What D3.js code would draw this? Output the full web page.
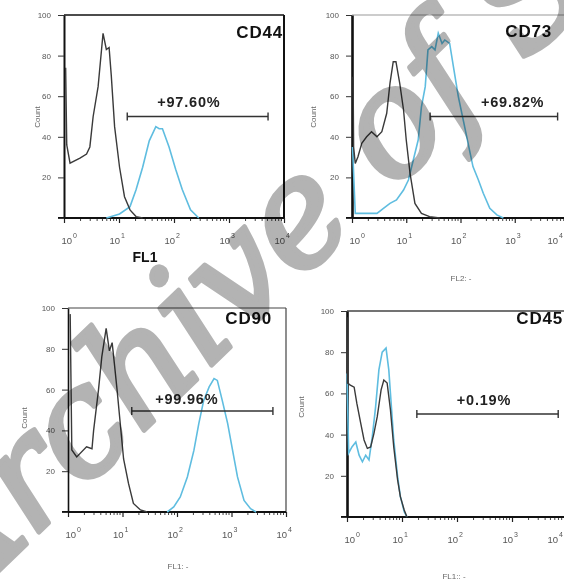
<!DOCTYPE html>
<html>
<head>
<meta charset="utf-8">
<script src="https://cdn.jsdelivr.net/npm/d3@7"></script>
<style>
  body { margin: 0; background: #fff; }
  svg { display: block; font-family: Arial, "Liberation Sans", sans-serif; }
  .watermark { font-family: "DejaVu Serif", serif; font-style: italic; }
</style>
</head>
<body>
<div id="graphics"></div>
<script>
// tick values
const decades = [0, 1, 2, 3, 4];
const countTicks = [0, 20, 40, 60, 80, 100];

// panel texts
const markers = ["CD44", "CD73", "CD90", "CD45"];
const positivePct = ["+97.60%", "+69.82%", "+99.96%", "+0.19%"];
const channelLabels = ["FL1", "FL2: -", "FL1: -", "FL1:: -"];

// histograms: x in log10 fluorescence, y = count
const cd44CtrlLog = [0.03, 0.05, 0.11, 0.29, 0.41, 0.47, 0.53, 0.62, 0.71, 0.77, 0.82, 0.86, 0.92, 1.01, 1.10, 1.20, 1.31, 1.43];
const cd44CtrlCount = [74, 36, 27, 29.5, 31.5, 35, 50, 64.7, 91, 83, 84, 70, 45, 25, 10.5, 4, 0.7, 0];
const cd44StainLog = [0.77, 1.01, 1.20, 1.31, 1.43, 1.55, 1.67, 1.73, 1.79, 1.91, 2.03, 2.15, 2.30, 2.45];
const cd44StainCount = [0, 2, 5.6, 13.9, 25, 38, 45, 44, 44, 35, 24, 14, 4, 0];

const cd73CtrlLog = [0.02, 0.03, 0.06, 0.11, 0.18, 0.27, 0.36, 0.46, 0.55, 0.64, 0.70, 0.76, 0.81, 0.88, 0.95, 1.00, 1.07, 1.16, 1.28, 1.43, 1.62];
const cd73CtrlCount = [69.6, 35, 26.9, 30.2, 36.8, 40, 42.5, 40, 42.5, 51.6, 66.3, 77, 77, 66.3, 53.2, 38.4, 22, 7.2, 2.3, 0.7, 0];
const cd73StainLog = [0.01, 0.06, 0.46, 0.58, 0.70, 0.82, 0.95, 1.04, 1.13, 1.22, 1.28, 1.35, 1.40, 1.47, 1.53, 1.59, 1.66, 1.71, 1.80, 1.87, 1.96, 2.05, 2.14, 2.23, 2.33, 2.42, 2.54, 2.67, 2.79];
const cd73StainCount = [35, 2.3, 2.3, 4.8, 7.2, 8.9, 13.8, 18.7, 28.6, 38.4, 54.8, 64.7, 82.8, 84.4, 82.8, 91, 86, 87.7, 86, 74.5, 59.8, 48.3, 36.8, 25.3, 18.7, 12.2, 4.8, 1.5, 0];

const cd90CtrlLog = [0.04, 0.07, 0.16, 0.34, 0.44, 0.47, 0.56, 0.62, 0.70, 0.76, 0.81, 0.85, 0.90, 0.96, 1.02, 1.11, 1.20, 1.33, 1.45];
const cd90CtrlCount = [97, 30.4, 27, 32, 31, 40, 60, 76, 90, 79, 83, 73, 60, 43, 26, 14, 4.2, 1, 0];
const cd90StainLog = [1.82, 1.94, 2.06, 2.19, 2.31, 2.40, 2.49, 2.59, 2.68, 2.74, 2.83, 2.93, 3.02, 3.11, 3.23, 3.35, 3.45];
const cd90StainCount = [0, 2.5, 7.4, 17.2, 30.2, 43.3, 54.7, 61.3, 65.4, 64.5, 54.7, 43.3, 30.2, 17.2, 5.7, 1.6, 0];

const cd45CtrlLog = [0.0, 0.01, 0.06, 0.13, 0.18, 0.25, 0.31, 0.37, 0.43, 0.49, 0.55, 0.62, 0.67, 0.73, 0.79, 0.85, 0.92, 0.97, 1.04, 1.09];
const cd45CtrlCount = [97, 65, 64, 63, 55, 45.5, 37.4, 33.3, 34, 40.6, 48.7, 61.7, 66.5, 65, 52, 34, 18, 9.9, 3.4, 0];
const cd45StainLog = [0.0, 0.03, 0.09, 0.16, 0.22, 0.28, 0.34, 0.40, 0.46, 0.52, 0.58, 0.64, 0.71, 0.76, 0.79, 0.85, 0.92, 0.97, 1.04, 1.09];
const cd45StainCount = [69.7, 31, 34, 36.4, 30, 26.8, 30, 27.7, 39, 53.5, 71.4, 80, 82, 71.4, 60, 37.4, 19.6, 10, 2.6, 0];

// gate (log10 from, log10 to) and count level, label spot
const gateFrom = [1.15, 1.44, 1.17, 1.27];
const gateTo = [3.71, 3.79, 3.76, 3.84];
const gateCount = [50, 50, 49.5, 50];
const pctLabelLog = [2.27, 2.96, 2.18, 2.49];
const pctLabelCount = [54.5, 54.7, 53, 54.4];

const W = 564, H = 583;

const svg = d3.select("#graphics")
  .append("svg")
  .attr("width", W)
  .attr("height", H);

// layout of the 4 panels
const layout = [
  { left: 64, right: 284, top: 15, bottom: 218, frameEnd: 284, rightBorder: true, topColor: "#111", topWidth: 1.6, yWidth: 2, countX: 40, countY: 117, markerX: 283, markerY: 38, chanX: 145, chanY: 262, chanBold: true },
  { left: 352, right: 569, top: 15, bottom: 218, frameEnd: 564, rightBorder: false, topColor: "#999", topWidth: 1, yWidth: 2.6, countX: 316, countY: 117, markerX: 552, markerY: 37, chanX: 461, chanY: 281, chanBold: false },
  { left: 68, right: 286, top: 308, bottom: 512, frameEnd: 286, rightBorder: true, topColor: "#444", topWidth: 1.2, yWidth: 1.6, countX: 27, countY: 418, markerX: 272, markerY: 324, chanX: 178, chanY: 569, chanBold: false },
  { left: 347, right: 567, top: 311, bottom: 517, frameEnd: 564, rightBorder: false, topColor: "#444", topWidth: 1.4, yWidth: 2.6, countX: 304, countY: 407, markerX: 563, markerY: 324, chanX: 454, chanY: 579, chanBold: false }
];

const ctrlSeries = [[cd44CtrlLog, cd44CtrlCount], [cd73CtrlLog, cd73CtrlCount], [cd90CtrlLog, cd90CtrlCount], [cd45CtrlLog, cd45CtrlCount]];
const stainSeries = [[cd44StainLog, cd44StainCount], [cd73StainLog, cd73StainCount], [cd90StainLog, cd90StainCount], [cd45StainLog, cd45StainCount]];

layout.forEach((p, i) => drawPanel(p, i));

function drawPanel(p, i) {
  let g = svg.append("g");
  let x = d3.scaleLog().domain([1, 1e4]).range([p.left, p.right]);
  let y = d3.scaleLinear().domain([0, 100]).range([p.bottom, p.top]);
  let line = d3.line()
    .x(d => x(Math.pow(10, d[0])))
    .y(d => y(d[1]));

  // frame
  g.append("line")
    .attr("x1", p.left).attr("x2", p.frameEnd)
    .attr("y1", y(100)).attr("y2", y(100))
    .attr("stroke", p.topColor).attr("stroke-width", p.topWidth);
  if (p.rightBorder) {
    g.append("line")
      .attr("x1", x(1e4)).attr("x2", x(1e4))
      .attr("y1", y(100)).attr("y2", y(0))
      .attr("stroke", i === 0 ? "#111" : "#444").attr("stroke-width", i === 0 ? 2 : 1.2);
  }

  // x axis
  let xAxis = d3.axisBottom(x)
    .tickValues(decades.map(d => Math.pow(10, d)))
    .tickSize(5).tickSizeOuter(0).tickFormat("");
  let xg = g.append("g").attr("transform", "translate(0," + p.bottom + ")").call(xAxis);
  xg.select(".domain").remove();
  xg.selectAll(".tick line").attr("stroke", "#222").attr("stroke-width", 1.2);

  let minors = [];
  decades.slice(0, 4).forEach(d => {
    for (let k = 2; k <= 9; k++) minors.push(k * Math.pow(10, d));
  });
  g.selectAll(".minor")
    .data(minors.filter(v => x(v) < W))
    .enter().append("line")
    .attr("x1", d => x(d)).attr("x2", d => x(d))
    .attr("y1", p.bottom).attr("y2", p.bottom + 3)
    .attr("stroke", "#444").attr("stroke-width", 1);

  g.append("line")
    .attr("x1", p.left - 6).attr("x2", Math.min(p.right, W))
    .attr("y1", p.bottom).attr("y2", p.bottom)
    .attr("stroke", "#111").attr("stroke-width", 2);

  // decade labels 10^n (the last one pulled inside the page edge)
  decades.forEach(d => {
    let tx = x(Math.pow(10, d));
    let base = d === 0 ? tx + 8 : tx + 1;
    base = Math.min(base, W - 6);
    g.append("text")
      .attr("x", base).attr("y", p.bottom + 26)
      .attr("text-anchor", "end")
      .attr("font-size", 9.5).attr("fill", "#555")
      .text("10");
    g.append("text")
      .attr("x", base + 1).attr("y", p.bottom + 20)
      .attr("font-size", 7).attr("fill", "#555")
      .text(d);
  });

  // y axis
  let yAxis = d3.axisLeft(y)
    .tickValues(countTicks)
    .tickSize(6).tickPadding(7).tickSizeOuter(0)
    .tickFormat(d => d === 0 ? "" : d);
  let yg = g.append("g").attr("transform", "translate(" + p.left + ",0)").call(yAxis);
  yg.select(".domain").attr("stroke", "#111").attr("stroke-width", p.yWidth);
  yg.selectAll(".tick line").attr("stroke", "#333");
  yg.selectAll(".tick text")
    .attr("font-size", 8).attr("font-family", "Arial, 'Liberation Sans', sans-serif")
    .attr("fill", "#555");

  // histograms
  let ctrl = ctrlSeries[i][0].map((v, k) => [v, ctrlSeries[i][1][k]]);
  let stain = stainSeries[i][0].map((v, k) => [v, stainSeries[i][1][k]]);
  g.append("path").datum(stain)
    .attr("d", line).attr("fill", "none")
    .attr("stroke", "#5fbde0").attr("stroke-width", 1.6);
  g.append("path").datum(ctrl)
    .attr("d", line).attr("fill", "none")
    .attr("stroke", "#3a3a3a").attr("stroke-width", 1.4);

  // gate
  let gx1 = x(Math.pow(10, gateFrom[i])), gx2 = x(Math.pow(10, gateTo[i])), gy = y(gateCount[i]);
  g.append("line").attr("x1", gx1).attr("x2", gx2).attr("y1", gy).attr("y2", gy)
    .attr("stroke", "#333").attr("stroke-width", 1.6);
  [gx1, gx2].forEach(v => {
    g.append("line").attr("x1", v).attr("x2", v).attr("y1", gy - 4).attr("y2", gy + 4)
      .attr("stroke", "#333").attr("stroke-width", 1.4);
  });
  g.append("text")
    .attr("x", x(Math.pow(10, pctLabelLog[i])))
    .attr("y", y(pctLabelCount[i]))
    .attr("text-anchor", "middle")
    .attr("font-size", 14.5).attr("font-weight", "bold")
    .attr("letter-spacing", 0.8).attr("fill", "#222")
    .text(positivePct[i]);

  // marker name
  g.append("text")
    .attr("x", p.markerX).attr("y", p.markerY)
    .attr("text-anchor", "end")
    .attr("font-size", 17).attr("font-weight", "bold")
    .attr("letter-spacing", 0.8).attr("fill", "#111")
    .text(markers[i]);

  // axis titles
  g.append("text")
    .attr("transform", "translate(" + p.countX + "," + p.countY + ") rotate(-90)")
    .attr("text-anchor", "middle")
    .attr("font-size", 8).attr("fill", "#666")
    .text("Count");
  g.append("text")
    .attr("x", p.chanX).attr("y", p.chanY)
    .attr("text-anchor", "middle")
    .attr("font-size", p.chanBold ? 14 : 8)
    .attr("font-weight", p.chanBold ? "bold" : "normal")
    .attr("fill", p.chanBold ? "#111" : "#666")
    .text(channelLabels[i]);
}

// watermark across the figure
svg.append("text")
  .attr("class", "watermark")
  .attr("transform", "translate(-44,612) rotate(-44)")
  .attr("font-size", 148)
  .attr("letter-spacing", -2)
  .attr("fill", "#b3b3b3")
  .attr("stroke", "#b3b3b3").attr("stroke-width", 5)
  .attr("stroke-linejoin", "round")
  .style("mix-blend-mode", "multiply")
  .text("Archive of SID");
</script>
</body>
</html>
